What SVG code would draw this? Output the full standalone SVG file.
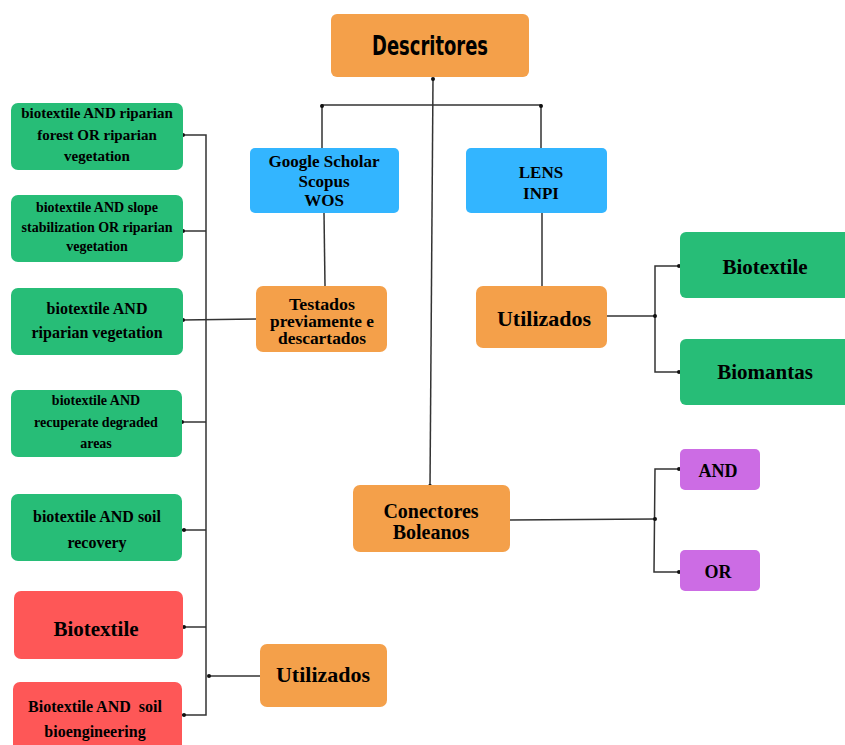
<svg xmlns="http://www.w3.org/2000/svg" width="845" height="745" viewBox="0 0 845 745">
<style>
.box{stroke:none}
.or{fill:#f4a04a}
.gr{fill:#27bd77}
.rd{fill:#fe5757}
.bl{fill:#33b5ff}
.pu{fill:#cc6ce4}
text{font-family:"Liberation Serif","DejaVu Serif",serif;font-weight:bold;fill:#000;text-anchor:middle}
.ln{fill:none;stroke:#333;stroke-width:1.5}
.dot{fill:#111}
</style>
<rect width="845" height="745" fill="#fff"/>
<g id="connectors">
<path class="ln" d="M433,79 L430,487"/>
<path class="ln" d="M322,148 L322,105 L541,105 L541,148"/>
<path class="ln" d="M324,213 L325,286"/>
<path class="ln" d="M542,213 L542,286"/>
<path class="ln" d="M607,316 L655,316"/>
<path class="ln" d="M680,266 L655,266 L655,372 L680,372"/>
<path class="ln" d="M510,520 L655,519"/>
<path class="ln" d="M680,469 L655,469 L654,572 L680,572"/>
<path class="ln" d="M182,135 L206,135 L206,715 L182,715"/>
<path class="ln" d="M182,231 L206,231"/>
<path class="ln" d="M182,320 L256,319"/>
<path class="ln" d="M182,422 L206,422"/>
<path class="ln" d="M182,530 L206,530"/>
<path class="ln" d="M182,627 L206,627"/>
<path class="ln" d="M208,676 L260,676"/>
<g class="dot">
<circle cx="433" cy="79" r="2"/>
<circle cx="430" cy="486" r="2"/>
<circle cx="322" cy="106" r="2"/>
<circle cx="541" cy="106" r="2"/>
<circle cx="655" cy="316" r="2"/>
<circle cx="679" cy="266" r="2"/>
<circle cx="679" cy="372" r="2"/>
<circle cx="655" cy="519" r="2"/>
<circle cx="679" cy="469" r="2"/>
<circle cx="679" cy="572" r="2"/>
<circle cx="183" cy="135" r="2"/>
<circle cx="183" cy="231" r="2"/>
<circle cx="183" cy="320" r="2"/>
<circle cx="182" cy="422" r="2"/>
<circle cx="184" cy="530" r="2"/>
<circle cx="184" cy="627" r="2"/>
<circle cx="184" cy="715" r="2"/>
<circle cx="209" cy="676" r="2"/>
</g>
</g>
<g id="descritores">
<rect class="box or" x="331" y="14" width="198" height="63" rx="6"/>
<text x="430" y="55" style="font-family:'DejaVu Sans Condensed','DejaVu Sans',sans-serif;font-stretch:condensed;font-size:27px;font-weight:bold" textLength="116" lengthAdjust="spacingAndGlyphs">Descritores</text>
</g>
<g id="google">
<rect class="box bl" x="250" y="148" width="149" height="65" rx="5"/>
<text x="324" y="167" font-size="17">Google Scholar</text>
<text x="324" y="187" font-size="17">Scopus</text>
<text x="324" y="206" font-size="17">WOS</text>
</g>
<g id="lens">
<rect class="box bl" x="466" y="148" width="141" height="65" rx="5"/>
<text x="541" y="178" font-size="17">LENS</text>
<text x="541" y="199" font-size="17">INPI</text>
</g>
<g id="testados">
<rect class="box or" x="256" y="286" width="131" height="66" rx="7"/>
<text x="322" y="310" font-size="16" textLength="66" lengthAdjust="spacingAndGlyphs">Testados</text>
<text x="322" y="327" font-size="16" textLength="104" lengthAdjust="spacingAndGlyphs">previamente e</text>
<text x="322" y="344" font-size="16" textLength="88" lengthAdjust="spacingAndGlyphs">descartados</text>
</g>
<g id="utilizados-right">
<rect class="box or" x="476" y="286" width="131" height="62" rx="7"/>
<text x="544" y="326" font-size="22">Utilizados</text>
</g>
<g id="biotextile-right">
<rect class="box gr" x="680" y="232" width="170" height="66" rx="6"/>
<text x="765" y="274" font-size="21">Biotextile</text>
</g>
<g id="biomantas">
<rect class="box gr" x="680" y="339" width="170" height="66" rx="6"/>
<text x="765" y="379" font-size="21">Biomantas</text>
</g>
<g id="conectores">
<rect class="box or" x="353" y="485" width="157" height="67" rx="7"/>
<text x="431" y="518" font-size="20">Conectores</text>
<text x="431" y="539" font-size="20">Boleanos</text>
</g>
<g id="and">
<rect class="box pu" x="680" y="449" width="80" height="41" rx="5"/>
<text x="718" y="477" font-size="18">AND</text>
</g>
<g id="or">
<rect class="box pu" x="680" y="550" width="80" height="41" rx="5"/>
<text x="718" y="578" font-size="18">OR</text>
</g>
<g id="utilizados-bottom">
<rect class="box or" x="260" y="644" width="127" height="63" rx="7"/>
<text x="323" y="682" font-size="22">Utilizados</text>
</g>
<g id="q1">
<rect class="box gr" x="11" y="103" width="172" height="67" rx="7"/>
<text x="97" y="118" font-size="15">biotextile AND riparian</text>
<text x="97" y="140" font-size="15">forest OR riparian</text>
<text x="97" y="161" font-size="15">vegetation</text>
</g>
<g id="q2">
<rect class="box gr" x="11" y="195" width="172" height="67" rx="7"/>
<text x="97" y="212" font-size="14">biotextile AND slope</text>
<text x="97" y="232" font-size="14">stabilization OR riparian</text>
<text x="97" y="251" font-size="14">vegetation</text>
</g>
<g id="q3">
<rect class="box gr" x="11" y="288" width="172" height="67" rx="7"/>
<text x="97" y="314" font-size="16">biotextile AND</text>
<text x="97" y="338" font-size="16">riparian vegetation</text>
</g>
<g id="q4">
<rect class="box gr" x="11" y="390" width="171" height="67" rx="7"/>
<text x="96" y="405" font-size="14">biotextile AND</text>
<text x="96" y="427" font-size="14">recuperate degraded</text>
<text x="96" y="448" font-size="14">areas</text>
</g>
<g id="q5">
<rect class="box gr" x="11" y="494" width="171" height="67" rx="7"/>
<text x="97" y="522" font-size="16">biotextile AND soil</text>
<text x="97" y="548" font-size="16">recovery</text>
</g>
<g id="biotextile-red">
<rect class="box rd" x="14" y="591" width="169" height="68" rx="7"/>
<text x="96" y="636" font-size="21">Biotextile</text>
</g>
<g id="bioengineering">
<rect class="box rd" x="13" y="682" width="169" height="75" rx="7"/>
<text x="95" y="712" font-size="16" style="white-space:pre">Biotextile AND  soil</text>
<text x="95" y="737" font-size="16">bioengineering</text>
</g>
</svg>
